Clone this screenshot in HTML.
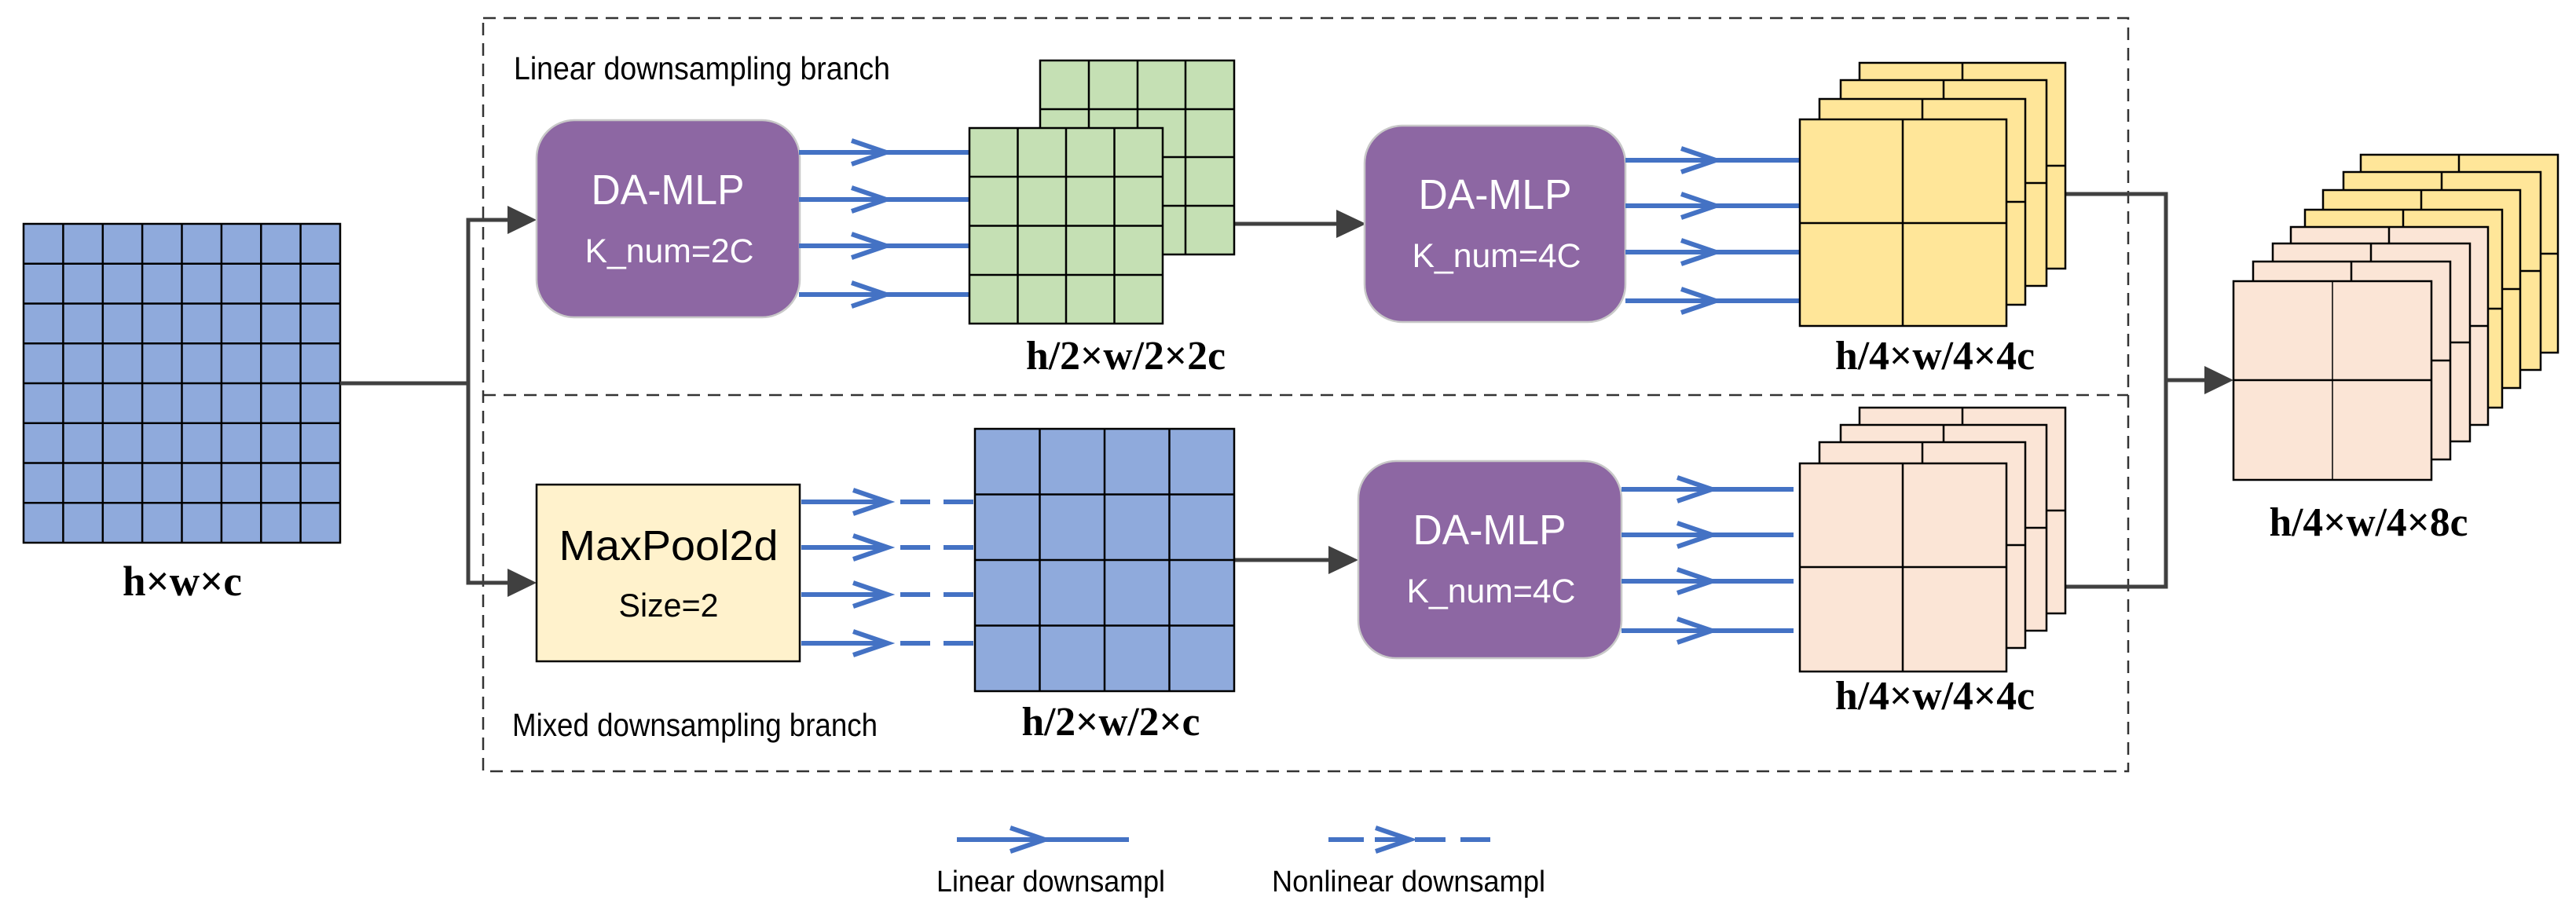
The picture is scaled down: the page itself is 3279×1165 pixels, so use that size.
<!DOCTYPE html>
<html><head><meta charset="utf-8"><style>html,body{margin:0;padding:0;background:#fff}svg{display:block}</style></head>
<body>
<svg width="3279" height="1165" viewBox="0 0 3279 1165" xmlns="http://www.w3.org/2000/svg">
<defs>
<g id="chev"><polyline points="-44,-15 0,0 -44,15" fill="none" stroke="#4472c4" stroke-width="6"/></g>
</defs>
<g fill="none" stroke="#333" stroke-width="2.5" stroke-dasharray="16,10">
<rect x="615" y="23" width="2094" height="959"/>
<line x1="615" y1="503" x2="2709" y2="503"/>
</g>
<g stroke="#000" stroke-width="2.5">
<rect x="30" y="285" width="403" height="406" fill="#8faadc"/>
<line x1="80.4" y1="285" x2="80.4" y2="691"/><line x1="130.8" y1="285" x2="130.8" y2="691"/><line x1="181.1" y1="285" x2="181.1" y2="691"/><line x1="231.5" y1="285" x2="231.5" y2="691"/><line x1="281.9" y1="285" x2="281.9" y2="691"/><line x1="332.3" y1="285" x2="332.3" y2="691"/><line x1="382.6" y1="285" x2="382.6" y2="691"/>
<line x1="30" y1="335.8" x2="433" y2="335.8"/><line x1="30" y1="386.5" x2="433" y2="386.5"/><line x1="30" y1="437.3" x2="433" y2="437.3"/><line x1="30" y1="488" x2="433" y2="488"/><line x1="30" y1="538.8" x2="433" y2="538.8"/><line x1="30" y1="589.5" x2="433" y2="589.5"/><line x1="30" y1="640.3" x2="433" y2="640.3"/>
</g>
<text x="232" y="758" font-family="Liberation Serif, serif" font-weight="bold" font-size="54" text-anchor="middle" textLength="152" lengthAdjust="spacingAndGlyphs">h×w×c</text>
<g stroke="#404040" stroke-width="5" fill="none">
<polyline points="433,488 596,488"/>
<polyline points="648,280 596,280 596,742 648,742"/>
<line x1="1571" y1="285" x2="1705" y2="285"/>
<line x1="1571" y1="713" x2="1695" y2="713"/>
<polyline points="2629,247 2757,247 2757,747 2629,747"/>
<line x1="2757" y1="484" x2="2810" y2="484"/>
</g>
<g fill="#404040">
<polygon points="646,262 683,280 646,298"/>
<polygon points="646,724 683,742 646,760"/>
<polygon points="1701,267 1739,285 1701,303"/>
<polygon points="1691,695 1729,713 1691,731"/>
<polygon points="2806,466 2843,484 2806,502"/>
</g>
<g font-family="Liberation Sans, DejaVu Sans, sans-serif" fill="#fff" text-anchor="middle">
<rect x="683" y="153" width="335" height="251" rx="48" fill="#8d67a3" stroke="#c8c8c8" stroke-width="2.5"/>
<text x="850" y="260" font-size="54" textLength="195" lengthAdjust="spacingAndGlyphs">DA-MLP</text>
<text x="852" y="334" font-size="43" textLength="215" lengthAdjust="spacingAndGlyphs">K_num=2C</text>
<rect x="1737" y="160" width="332" height="250" rx="48" fill="#8d67a3" stroke="#c8c8c8" stroke-width="2.5"/>
<text x="1903" y="266" font-size="54" textLength="195" lengthAdjust="spacingAndGlyphs">DA-MLP</text>
<text x="1905" y="340" font-size="43" textLength="215" lengthAdjust="spacingAndGlyphs">K_num=4C</text>
<rect x="1729" y="587" width="335" height="251" rx="48" fill="#8d67a3" stroke="#c8c8c8" stroke-width="2.5"/>
<text x="1896" y="693" font-size="54" textLength="195" lengthAdjust="spacingAndGlyphs">DA-MLP</text>
<text x="1898" y="767" font-size="43" textLength="215" lengthAdjust="spacingAndGlyphs">K_num=4C</text>
</g>
<rect x="683" y="617" width="335" height="225" fill="#fff2cc" stroke="#000" stroke-width="2.5"/>
<text x="851" y="713" font-family="Liberation Sans, sans-serif" font-size="54" text-anchor="middle" textLength="279" lengthAdjust="spacingAndGlyphs">MaxPool2d</text>
<text x="851" y="785" font-family="Liberation Sans, sans-serif" font-size="42" text-anchor="middle" textLength="127" lengthAdjust="spacingAndGlyphs">Size=2</text>
<text x="654" y="101" font-family="Liberation Sans, sans-serif" font-size="41" textLength="479" lengthAdjust="spacingAndGlyphs">Linear downsampling branch</text>
<text x="652" y="937" font-family="Liberation Sans, sans-serif" font-size="41" textLength="465" lengthAdjust="spacingAndGlyphs">Mixed downsampling branch</text>
<g stroke="#4472c4" stroke-width="6">
<line x1="1017" y1="194" x2="1234" y2="194"/><line x1="1017" y1="254" x2="1234" y2="254"/><line x1="1017" y1="313" x2="1234" y2="313"/><line x1="1017" y1="375" x2="1234" y2="375"/>
<line x1="2069" y1="204" x2="2291" y2="204"/><line x1="2069" y1="262" x2="2291" y2="262"/><line x1="2069" y1="321" x2="2291" y2="321"/><line x1="2069" y1="383" x2="2291" y2="383"/>
<line x1="2064" y1="623" x2="2283" y2="623"/><line x1="2064" y1="681" x2="2283" y2="681"/><line x1="2064" y1="740" x2="2283" y2="740"/><line x1="2064" y1="803" x2="2283" y2="803"/>
<line x1="1218" y1="1069" x2="1437" y2="1069"/>
</g>
<use href="#chev" x="1128" y="194"/><use href="#chev" x="1128" y="254"/><use href="#chev" x="1128" y="313"/><use href="#chev" x="1128" y="375"/>
<use href="#chev" x="2184" y="204"/><use href="#chev" x="2184" y="262"/><use href="#chev" x="2184" y="321"/><use href="#chev" x="2184" y="383"/>
<use href="#chev" x="2179" y="623"/><use href="#chev" x="2179" y="681"/><use href="#chev" x="2179" y="740"/><use href="#chev" x="2179" y="803"/>
<use href="#chev" x="1330" y="1069"/>
<g stroke="#4472c4" stroke-width="6">
<line x1="1020" y1="639" x2="1130" y2="639"/><line x1="1146" y1="639" x2="1184" y2="639"/><line x1="1201" y1="639" x2="1239" y2="639"/>
<line x1="1020" y1="697" x2="1130" y2="697"/><line x1="1146" y1="697" x2="1184" y2="697"/><line x1="1201" y1="697" x2="1239" y2="697"/>
<line x1="1020" y1="757" x2="1130" y2="757"/><line x1="1146" y1="757" x2="1184" y2="757"/><line x1="1201" y1="757" x2="1239" y2="757"/>
<line x1="1020" y1="819" x2="1130" y2="819"/><line x1="1146" y1="819" x2="1184" y2="819"/><line x1="1201" y1="819" x2="1239" y2="819"/>
<line x1="1691" y1="1069" x2="1736" y2="1069"/><line x1="1750" y1="1069" x2="1795" y2="1069"/><line x1="1801" y1="1069" x2="1840" y2="1069"/><line x1="1859" y1="1069" x2="1897" y2="1069"/>
</g>
<use href="#chev" x="1130" y="639"/><use href="#chev" x="1130" y="697"/><use href="#chev" x="1130" y="757"/><use href="#chev" x="1130" y="819"/>
<use href="#chev" x="1795" y="1069"/>
<g stroke="#000" stroke-width="2.5">
<rect x="1324" y="77" width="247" height="247" fill="#c5e0b4"/>
<line x1="1386" y1="77" x2="1386" y2="324"/><line x1="1448" y1="77" x2="1448" y2="324"/><line x1="1509" y1="77" x2="1509" y2="324"/>
<line x1="1324" y1="139" x2="1571" y2="139"/><line x1="1324" y1="200" x2="1571" y2="200"/><line x1="1324" y1="262" x2="1571" y2="262"/>
<rect x="1234" y="163" width="246" height="249" fill="#c5e0b4"/>
<line x1="1295.5" y1="163" x2="1295.5" y2="412"/><line x1="1357" y1="163" x2="1357" y2="412"/><line x1="1418.5" y1="163" x2="1418.5" y2="412"/>
<line x1="1234" y1="225" x2="1480" y2="225"/><line x1="1234" y1="287.5" x2="1480" y2="287.5"/><line x1="1234" y1="350" x2="1480" y2="350"/>
</g>
<g stroke="#000" stroke-width="2.5">
<rect x="1241" y="546" width="330" height="334" fill="#8faadc"/>
<line x1="1323.5" y1="546" x2="1323.5" y2="880"/><line x1="1406" y1="546" x2="1406" y2="880"/><line x1="1488.5" y1="546" x2="1488.5" y2="880"/>
<line x1="1241" y1="629.5" x2="1571" y2="629.5"/><line x1="1241" y1="713" x2="1571" y2="713"/><line x1="1241" y1="796.5" x2="1571" y2="796.5"/>
</g>
<g font-family="Liberation Serif, serif" font-weight="bold" font-size="52" text-anchor="middle">
<text x="1433" y="470" textLength="254" lengthAdjust="spacingAndGlyphs">h/2×w/2×2c</text>
<text x="1414" y="936" textLength="227" lengthAdjust="spacingAndGlyphs">h/2×w/2×c</text>
<text x="2463" y="470" textLength="254" lengthAdjust="spacingAndGlyphs">h/4×w/4×4c</text>
<text x="2463" y="903" textLength="254" lengthAdjust="spacingAndGlyphs">h/4×w/4×4c</text>
<text x="3015" y="682" textLength="253" lengthAdjust="spacingAndGlyphs">h/4×w/4×8c</text>
</g>
<g stroke="#000" stroke-width="2.5">
<g fill="#ffe699">
<rect x="2367" y="80" width="262" height="262"/><line x1="2498" y1="80" x2="2498" y2="342"/><line x1="2367" y1="211" x2="2629" y2="211"/>
<rect x="2343" y="102" width="262" height="262"/><line x1="2474" y1="102" x2="2474" y2="364"/><line x1="2343" y1="233" x2="2605" y2="233"/>
<rect x="2316" y="126" width="262" height="262"/><line x1="2447" y1="126" x2="2447" y2="388"/><line x1="2316" y1="257" x2="2578" y2="257"/>
<rect x="2291" y="152" width="263" height="263"/><line x1="2422" y1="152" x2="2422" y2="415"/><line x1="2291" y1="284" x2="2554" y2="284"/>
</g>
<g fill="#fbe5d6">
<rect x="2367" y="519" width="262" height="262"/><line x1="2498" y1="519" x2="2498" y2="781"/><line x1="2367" y1="650" x2="2629" y2="650"/>
<rect x="2343" y="541" width="262" height="262"/><line x1="2474" y1="541" x2="2474" y2="803"/><line x1="2343" y1="672" x2="2605" y2="672"/>
<rect x="2316" y="563" width="262" height="262"/><line x1="2447" y1="563" x2="2447" y2="825"/><line x1="2316" y1="694" x2="2578" y2="694"/>
<rect x="2291" y="590" width="263" height="265"/><line x1="2422" y1="590" x2="2422" y2="855"/><line x1="2291" y1="722" x2="2554" y2="722"/>
</g>
<g fill="#ffe699">
<rect x="3005" y="197" width="251" height="252"/><line x1="3130" y1="197" x2="3130" y2="449"/><line x1="3005" y1="323" x2="3256" y2="323"/>
<rect x="2983" y="219" width="251" height="252"/><line x1="3108" y1="219" x2="3108" y2="471"/><line x1="2983" y1="345" x2="3234" y2="345"/>
<rect x="2957" y="242" width="251" height="252"/><line x1="3082" y1="242" x2="3082" y2="494"/><line x1="2957" y1="368" x2="3208" y2="368"/>
<rect x="2934" y="267" width="251" height="252"/><line x1="3059" y1="267" x2="3059" y2="519"/><line x1="2934" y1="393" x2="3185" y2="393"/>
</g>
<g fill="#fbe5d6">
<rect x="2916" y="289" width="251" height="252"/><line x1="3041" y1="289" x2="3041" y2="541"/><line x1="2916" y1="415" x2="3167" y2="415"/>
<rect x="2893" y="310" width="251" height="252"/><line x1="3018" y1="310" x2="3018" y2="562"/><line x1="2893" y1="436" x2="3144" y2="436"/>
<rect x="2868" y="333" width="251" height="252"/><line x1="2993" y1="333" x2="2993" y2="585"/><line x1="2868" y1="459" x2="3119" y2="459"/>
<rect x="2843" y="358" width="252" height="253"/><line x1="2969" y1="358" x2="2969" y2="611" stroke-width="1.5"/><line x1="2843" y1="484" x2="3095" y2="484"/>
</g>
</g>
<g font-family="Liberation Sans, sans-serif" font-size="38">
<text x="1192" y="1135" textLength="291" lengthAdjust="spacingAndGlyphs">Linear downsampl</text>
<text x="1619" y="1135" textLength="348" lengthAdjust="spacingAndGlyphs">Nonlinear downsampl</text>
</g>
</svg>
</body></html>
